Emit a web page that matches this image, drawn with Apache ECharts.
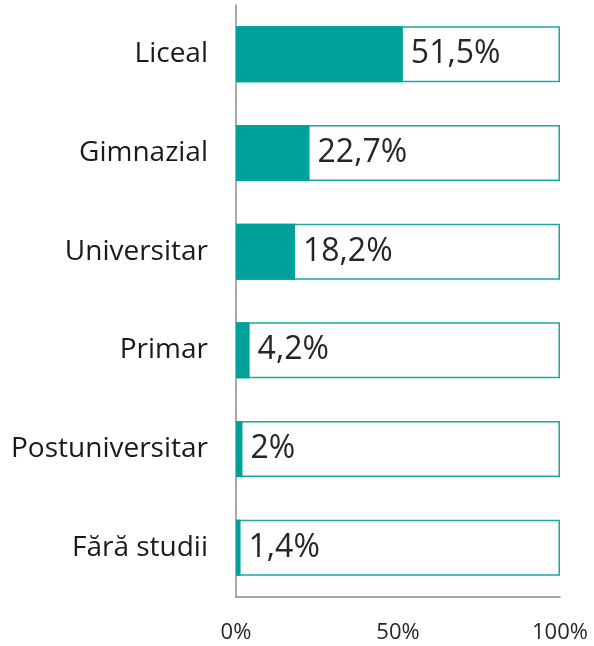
<!DOCTYPE html>
<html>
<head>
<meta charset="utf-8">
<script src="https://cdn.jsdelivr.net/npm/echarts@6/dist/echarts.min.js"></script>
<style>
  html, body { margin: 0; padding: 0; background: #fff; }
  #box { width: 594px; height: 646px; }
</style>
</head>
<body>
<div id="box"></div>
<script>
  // categories, top to bottom as in the picture
  var categories = ['Liceal', 'Gimnazial', 'Universitar', 'Primar', 'Postuniversitar', 'Fără studii'];
  var shares = [51.5, 22.7, 18.2, 4.2, 2, 1.4];
  var fullScale = [100, 100, 100, 100, 100, 100];
  var xTicks = [0, 50, 100];

  var teal = '#00A19A';
  var myChart = echarts.init(document.getElementById('box'));
  var option = {
    backgroundColor: '#fff',
    animation: false,
    grid: { left: 236, right: 34, top: 5, bottom: 49, containLabel: false },
    xAxis: {
      type: 'value',
      min: xTicks[0],
      max: xTicks[xTicks.length - 1],
      interval: 50,
      splitLine: { show: false },
      axisLine: { show: true, lineStyle: { color: '#8c8c8c', width: 1.5 } },
      axisTick: { show: false },
      axisLabel: {
        formatter: '{value}%',
        color: '#262626',
        fontFamily: 'Open Sans',
        fontSize: 22,
        margin: 25
      }
    },
    yAxis: {
      type: 'category',
      inverse: true,
      data: categories,
      axisLine: { show: true, lineStyle: { color: '#8c8c8c', width: 1.5 } },
      axisTick: { show: false },
      axisLabel: {
        color: '#1a1a1a',
        fontFamily: 'Open Sans',
        fontSize: 28,
        margin: 28
      }
    },
    series: [
      {
        type: 'bar',
        data: fullScale,
        barWidth: 56,
        barGap: '-100%',
        silent: true,
        itemStyle: { color: '#fff', borderColor: '#1aa89f', borderWidth: 1.5 }
      },
      {
        type: 'bar',
        data: shares,
        barWidth: 56,
        itemStyle: { color: teal },
        label: {
          show: true,
          position: 'right',
          distance: 8,
          color: '#262626',
          fontFamily: 'Open Sans',
          fontSize: 32,
          formatter: function (p) { return String(p.value).replace('.', ',') + '%'; }
        }
      }
    ]
  };
  myChart.setOption(option);
</script>
</body>
</html>
